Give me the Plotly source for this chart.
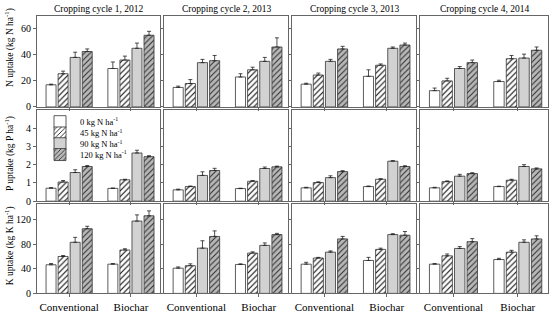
import plotly.graph_objects as go
from plotly.subplots import make_subplots

systems = ["Conventional", "Biochar"]
rates = ["0 kg N ha<sup>-1</sup>", "45 kg N ha<sup>-1</sup>",
         "90 kg N ha<sup>-1</sup>", "120 kg N ha<sup>-1</sup>"]
cycles = ["Cropping cycle 1, 2012", "Cropping cycle 2, 2013",
          "Cropping cycle 3, 2013", "Cropping cycle 4, 2014"]

# Each list: one [Conventional, Biochar] pair per N rate (0, 45, 90, 120)
N_C1 = [[17, 29.5], [25.5, 36], [38, 45], [42.5, 55]]
N_C1_ERR = [[0.5, 5], [2, 3], [4, 4], [2, 3]]
N_C2 = [[15, 23], [18, 28.5], [34, 35], [35.5, 46]]
N_C2_ERR = [[1, 2.5], [3, 2], [2.5, 3], [4, 7]]
N_C3 = [[17.5, 23.5], [24.5, 32], [35, 45], [44.5, 47.5]]
N_C3_ERR = [[0.7, 5], [1.5, 1], [1.5, 1], [2, 1.5]]
N_C4 = [[12.5, 19.5], [20, 37], [29.5, 37.5], [34, 43.5]]
N_C4_ERR = [[2, 1], [2, 2.5], [1.5, 3], [2, 2.5]]

P_C1 = [[0.71, 0.70], [1.05, 1.17], [1.57, 2.64], [1.90, 2.44]]
P_C1_ERR = [[0.03, 0.02], [0.08, 0.03], [0.15, 0.15], [0.05, 0.05]]
P_C2 = [[0.62, 0.69], [0.80, 1.09], [1.41, 1.79], [1.68, 1.88]]
P_C2_ERR = [[0.04, 0.02], [0.03, 0.04], [0.2, 0.08], [0.12, 0.04]]
P_C3 = [[0.73, 0.80], [1.02, 1.20], [1.29, 2.19], [1.62, 1.90]]
P_C3_ERR = [[0.03, 0.03], [0.04, 0.03], [0.1, 0.03], [0.05, 0.04]]
P_C4 = [[0.73, 0.80], [1.07, 1.15], [1.37, 1.90], [1.51, 1.77]]
P_C4_ERR = [[0.03, 0.02], [0.04, 0.05], [0.1, 0.1], [0.05, 0.05]]

K_C1 = [[46.5, 47.5], [60, 70.5], [83, 117.5], [105, 126]]
K_C1_ERR = [[2, 1], [1.5, 2], [8, 10], [4, 8]]
K_C2 = [[41, 47], [45, 65.5], [73.5, 78], [92.5, 95.5]]
K_C2_ERR = [[2, 1], [3, 2], [12, 4], [9, 2]]
K_C3 = [[47.5, 53.5], [57.5, 71.5], [67, 95.5], [88.5, 94.5]]
K_C3_ERR = [[3, 5], [1, 2], [2, 1.5], [4, 6]]
K_C4 = [[47.5, 55], [61, 67], [73, 83], [84, 88.5]]
K_C4_ERR = [[1, 2], [3, 3], [3, 4], [5, 5]]

y_titles = ["N uptake (kg N ha<sup>-1</sup>)", "P uptake (kg P ha<sup>-1</sup>)",
            "K uptake (kg K ha<sup>-1</sup>)"]
y_ranges = [[0, 70], [0, 5], [0, 145]]
y_ticks = [[0, 20, 40, 60], [0, 1, 2, 3, 4], [0, 40, 80, 120]]

rows_data = [
    [(N_C1, N_C1_ERR), (N_C2, N_C2_ERR), (N_C3, N_C3_ERR), (N_C4, N_C4_ERR)],
    [(P_C1, P_C1_ERR), (P_C2, P_C2_ERR), (P_C3, P_C3_ERR), (P_C4, P_C4_ERR)],
    [(K_C1, K_C1_ERR), (K_C2, K_C2_ERR), (K_C3, K_C3_ERR), (K_C4, K_C4_ERR)],
]

W, H = 550, 321
FONT = "Liberation Serif, Times New Roman, serif"

styles = [
    dict(color="white", pattern=dict(shape="")),
    dict(color="white", pattern=dict(shape="/", fgcolor="black", bgcolor="white",
                                     size=4, solidity=0.25, fillmode="replace")),
    dict(color="#d2d2d2", pattern=dict(shape="")),
    dict(color="#b8b8b8", pattern=dict(shape="/", fgcolor="#333333", bgcolor="#b8b8b8",
                                       size=4, solidity=0.28, fillmode="replace")),
]

col_px = [(37, 160), (164, 288), (292, 416), (420, 548)]
row_px = [(16, 109), (112, 205), (208, 299)]

fig = make_subplots(rows=3, cols=4)
legend_names = ["legend", "legend2", "legend3", "legend4"]

for r in range(3):
    for c in range(4):
        vals, errs = rows_data[r][c]
        for k in range(4):
            fig.add_trace(go.Bar(
                x=systems, y=vals[k], name=rates[k],
                marker=dict(color=styles[k]["color"], pattern=styles[k]["pattern"],
                            line=dict(color="#333333", width=0.8)),
                error_y=dict(type="data", array=errs[k], arrayminus=[0, 0],
                             symmetric=False, color="#222222", thickness=0.8, width=2),
                showlegend=(r == 0 and c == 0),
                legend=legend_names[k],
            ), row=r + 1, col=c + 1)
        idx = r * 4 + c + 1
        xn = "xaxis" if idx == 1 else f"xaxis{idx}"
        yn = "yaxis" if idx == 1 else f"yaxis{idx}"
        x0, x1 = col_px[c]
        y0, y1 = row_px[r]
        fig.layout[xn].update(
            domain=[x0 / W, x1 / W], range=[-0.52, 1.47],
            showline=True, mirror=True, linecolor="#666666", linewidth=1,
            ticks="outside", ticklen=3, tickcolor="#666666",
            showticklabels=(r == 2), showgrid=False, zeroline=False,
            tickfont=dict(family=FONT, size=11, color="black"),
        )
        fig.layout[yn].update(
            domain=[1 - y1 / H, 1 - y0 / H], range=y_ranges[r],
            tickvals=y_ticks[r], showline=True, mirror=True,
            linecolor="#666666", linewidth=1, ticks="outside", ticklen=3,
            tickcolor="#666666", showticklabels=(c == 0), showgrid=False,
            zeroline=False, tickfont=dict(family=FONT, size=10, color="black"),
        )

annotations = []
for c in range(4):
    x0, x1 = col_px[c]
    annotations.append(dict(text=cycles[c], x=(x0 + x1) / 2 / W, y=1 - 9 / H,
                            xref="paper", yref="paper", showarrow=False,
                            xanchor="center", yanchor="middle",
                            font=dict(family=FONT, size=9.5, color="black")))
title_y = [49, 157, 251]
for r in range(3):
    annotations.append(dict(text=y_titles[r], x=9 / W, y=1 - title_y[r] / H,
                            xref="paper", yref="paper", showarrow=False,
                            textangle=-90, xanchor="center", yanchor="middle",
                            font=dict(family=FONT, size=9.5, color="black")))

legend_y = [124, 135.5, 146.5, 157.5]
leg_common = dict(xanchor="left", yanchor="middle", bgcolor="rgba(0,0,0,0)",
                  borderwidth=0, font=dict(family=FONT, size=8.5, color="black"),
                  itemwidth=30)
LX = 40 / W
fig.update_layout(
    width=W, height=H, margin=dict(l=0, r=0, t=0, b=0),
    paper_bgcolor="white", plot_bgcolor="white",
    barmode="group", bargap=0.22, bargroupgap=0.17,
    annotations=annotations,
    legend=dict(x=LX, y=1 - legend_y[0] / H, **leg_common),
    legend2=dict(x=LX, y=1 - legend_y[1] / H, **leg_common),
    legend3=dict(x=LX, y=1 - legend_y[2] / H, **leg_common),
    legend4=dict(x=LX, y=1 - legend_y[3] / H, **leg_common),
    font=dict(family=FONT, color="black"),
)

fig.write_html("out.html", config={"displayModeBar": False},
               post_script="document.body.style.margin='0';document.body.style.padding='0';")
